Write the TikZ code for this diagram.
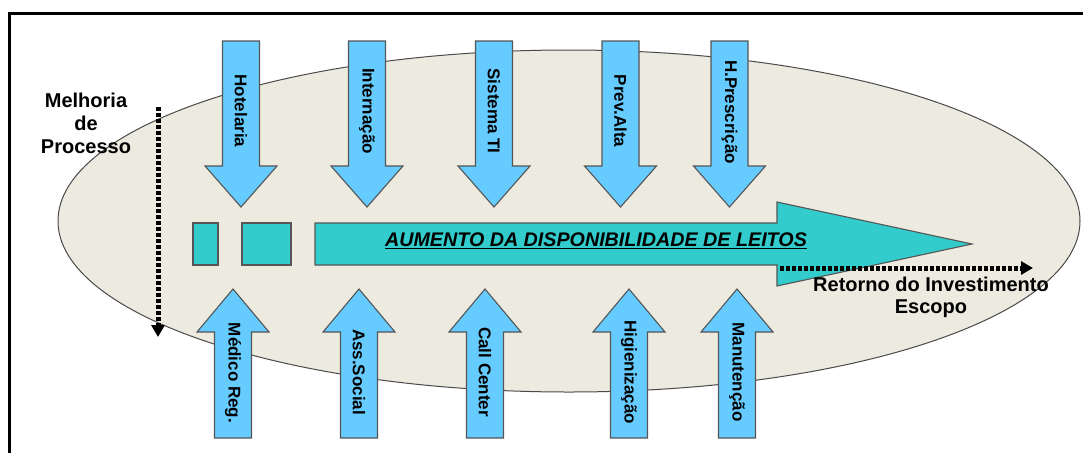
\documentclass[tikz,border=0pt]{standalone}
\usepackage{fontspec}
\setmainfont{Liberation Sans}
\usepackage{xcolor}
\usepackage{tikz}
\usetikzlibrary{arrows.meta}
\definecolor{frame}{HTML}{000000}
\definecolor{oval}{HTML}{EDEAE0}
\definecolor{ovalline}{HTML}{4A4A4A}
\definecolor{skyblue}{HTML}{66CCFF}
\definecolor{teal}{HTML}{33CCCC}
\definecolor{edge}{HTML}{555555}
\tikzset{
  box/.style={line width=1.1pt, draw=edge, fill=skyblue},
  band/.style={line width=1.1pt, draw=edge, fill=teal},
  alabel/.style={rotate=-90, font=\bfseries\fontsize{17}{20}\selectfont},
  side/.style={align=center, font=\bfseries\fontsize{20}{23}\selectfont},
  dotline/.style={line width=5pt, dash pattern=on 3.6pt off 2.4pt,
    -{Triangle[length=12pt,width=13pt]}},
  downarr/.pic={\path[box] (-18.5,41)--(18.5,41)--(18.5,166)--(36,166)
      --(0,207)--(-36,166)--(-18.5,166)--cycle;},
  uparr/.pic={\path[box] (-18.5,438)--(18.5,438)--(18.5,332)--(36,332)
      --(0,289)--(-36,332)--(-18.5,332)--cycle;},
}

\begin{document}
\begin{tikzpicture}[x=1pt,y=-1pt]
  \useasboundingbox (0,0) rectangle (1083,453);

  % frame, only top and left edges show
  \draw[line width=3pt, frame] (9,453)--(9,13)--(1083,13);

  % background oval
  \path[fill=oval, draw=ovalline, line width=1pt] (569,221) ellipse [x radius=511, y radius=171];

  % top arrows
  \pic at (241,0) {downarr};
  \pic at (367,0) {downarr};
  \pic at (494,0) {downarr};
  \pic at (620.5,0) {downarr};
  \pic at (729.5,0) {downarr};
  \node[alabel] (hot) at (241,111) {Hotelaria};
  \node[alabel] (int) at (367,111) {Internação};
  \node[alabel] (sti) at (494,111) {Sistema TI};
  \node[alabel] (alt) at (620.5,111) {Prev.Alta};
  \node[alabel] (hpr) at (729.5,112) {H.Prescrição};

  % bottom arrows
  \pic at (233,0) {uparr};
  \pic at (359,0) {uparr};
  \pic at (485,0) {uparr};
  \pic at (629,0) {uparr};
  \pic at (737,0) {uparr};
  \node[alabel] (med) at (233,373) {Médico Reg.};
  \node[alabel] (ass) at (359,372) {Ass.Social};
  \node[alabel] (cal) at (485,372) {Call Center};
  \node[alabel] (hig) at (629,372) {Higienização};
  \node[alabel] (man) at (737,372) {Manutenção};

  % main band
  \path[band] (193,223) rectangle (218,265);
  \path[band] (242,223) rectangle (291,265);
  \path[band] (315,223)--(777,223)--(777,202)--(972,244)--(777,286)--(777,265)--(315,265)--cycle;
  \node[font=\bfseries\itshape\fontsize{19.7}{22}\selectfont] (leitos) at (596,241)
    {\underline{AUMENTO DA DISPONIBILIDADE DE LEITOS}};

  % side notes
  \node[side] (melh) at (86,123) {Melhoria\\de\\Processo};
  \coordinate (m1) at (158,107);
  \coordinate (m2) at (158,337);
  \draw[dotline] (m1)--(m2);

  \coordinate (r1) at (780,268);
  \coordinate (r2) at (1033,268);
  \draw[dotline] (r1)--(r2);
  \node[side, font=\bfseries\fontsize{20}{22}\selectfont] (ret) at (931,297) {Retorno do Investimento\\Escopo};
\end{tikzpicture}
\end{document}
